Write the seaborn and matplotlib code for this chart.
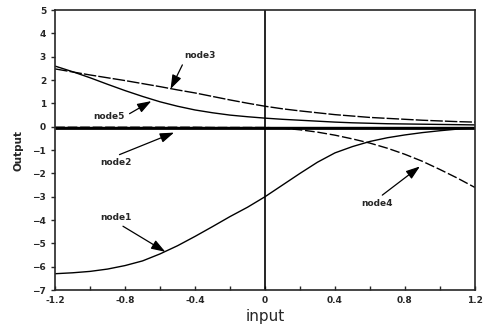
import numpy as np
import pandas as pd
import seaborn as sns
from matplotlib import pyplot as plt

x_vals = [-1.2, -1.1, -1.0, -0.9, -0.8, -0.7, -0.6, -0.5, -0.4, -0.3, -0.2, -0.1, 0.0,
          0.1, 0.2, 0.3, 0.4, 0.5, 0.6, 0.7, 0.8, 0.9, 1.0, 1.1, 1.2]
node1 = [-6.3, -6.26, -6.2, -6.1, -5.95, -5.75, -5.45, -5.1, -4.7, -4.28, -3.85, -3.45, -3.0,
         -2.5, -2.0, -1.52, -1.12, -0.85, -0.63, -0.47, -0.35, -0.25, -0.17, -0.1, -0.05]
node2 = [-0.05] * 25
node3 = [2.48, 2.35, 2.22, 2.1, 1.98, 1.85, 1.72, 1.58, 1.45, 1.3, 1.15, 1.01, 0.88,
         0.77, 0.68, 0.6, 0.52, 0.46, 0.4, 0.36, 0.32, 0.28, 0.25, 0.22, 0.2]
node4 = [-0.02, -0.02, -0.02, -0.02, -0.02, -0.02, -0.02, -0.02, -0.02, -0.03, -0.03, -0.03, -0.03,
         -0.06, -0.13, -0.23, -0.36, -0.52, -0.7, -0.92, -1.18, -1.48, -1.83, -2.2, -2.6]
node5 = [2.6, 2.36, 2.1, 1.82, 1.55, 1.3, 1.07, 0.88, 0.72, 0.6, 0.5, 0.43, 0.37,
         0.32, 0.28, 0.24, 0.2, 0.17, 0.15, 0.13, 0.12, 0.11, 0.1, 0.09, 0.08]

x_ticks = [-1.2, -0.8, -0.4, 0, 0.4, 0.8, 1.2]
x_ticklabels = ["-1.2", "-0.8", "-0.4", "0", "0.4", "0.8", "1.2"]
x_minor = [-1.0, -0.6, -0.2, 0.2, 0.6, 1.0]
y_ticks = [5, 4, 3, 2, 1, 0, -1, -2, -3, -4, -5, -6, -7]

sns.set_style("ticks")
plt.rcParams["font.family"] = ["DejaVu Sans"]

fig = plt.figure(figsize=(4.88, 3.27), dpi=100)
ax = fig.add_axes([0.113, 0.113, 0.86, 0.856])

styles = {
    "node1": (node1, (0, ()), 1.0),
    "node2": (node2, (0, ()), 2.0),
    "node3": (node3, (0, (9, 1.5)), 1.0),
    "node4": (node4, (0, (7, 2)), 1.0),
    "node5": (node5, (0, ()), 1.0),
}
for name, (vals, ls, lw) in styles.items():
    df = pd.DataFrame({"input": x_vals, "Output": vals})
    sns.lineplot(data=df, x="input", y="Output", ax=ax, color="black",
                 linestyle=ls, linewidth=lw)

ax.axvline(0, color="black", lw=1.2)
ax.axhline(0, color="black", lw=1.0)

# label, arrow head, text centre, where the arrow leaves the text
notes = [
    ("node3", (-0.54, 1.62), (-0.37, 3.04), (0.0, 0.0)),
    ("node5", (-0.65, 1.1), (-0.89, 0.45), (1.0, 0.5)),
    ("node2", (-0.52, -0.25), (-0.85, -1.55), (0.3, 1.0)),
    ("node1", (-0.57, -5.36), (-0.85, -3.9), (0.5, 0.0)),
    ("node4", (0.886, -1.7), (0.64, -3.3), (0.5, 1.0)),
]
for label, head, txt, rel in notes:
    arrow = dict(arrowstyle="-|>,head_length=1.3,head_width=0.45", color="black", lw=0.9,
                 shrinkA=1, shrinkB=0, relpos=rel)
    ax.annotate(label, xy=head, xytext=txt, fontsize=6.5, fontweight="bold",
                ha="center", va="center", arrowprops=arrow)

ax.set_xlim(-1.2, 1.2)
ax.set_ylim(-7, 5)
ax.set_xticks(x_ticks)
ax.set_xticklabels(x_ticklabels)
ax.set_xticks(x_minor, minor=True)
ax.set_yticks(y_ticks)
ax.tick_params(axis="x", which="both", direction="in", length=3, width=1, labelsize=6.5, pad=4)
ax.tick_params(axis="y", direction="out", length=3, width=1, labelsize=6.5)
for lab in ax.get_xticklabels() + ax.get_yticklabels():
    lab.set_fontweight("bold")
for s in ax.spines.values():
    s.set_linewidth(1.2)

ax.set_xlabel("input", fontsize=11, labelpad=3)
ax.set_ylabel("Output", fontsize=7.5, fontweight="bold", labelpad=6)

plt.savefig("out.png", dpi=100)
